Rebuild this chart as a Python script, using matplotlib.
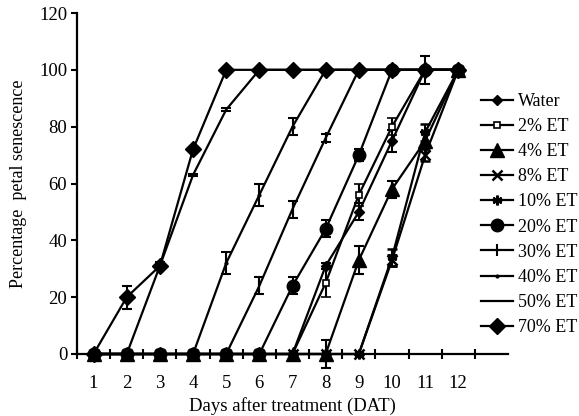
import matplotlib
matplotlib.use("Agg")
import matplotlib.pyplot as plt

plt.rcParams['font.family'] = ['Liberation Serif', 'DejaVu Serif']

days = list(range(1, 13))
day_labels = [str(d) for d in days]

water = [0, 0, 0, 0, 0, 0, 0, 31, 50, 75, 100, 100]
water_err = [0, 0, 0, 0, 0, 0, 0, 1, 3, 4, 5, 0]
et2 = [0, 0, 0, 0, 0, 0, 0, 25, 56, 80, 100, 100]
et2_err = [0, 0, 0, 0, 0, 0, 0, 5, 4, 3, 0, 0]
et4 = [0, 0, 0, 0, 0, 0, 0, 0, 33, 58, 75, 100]
et4_err = [0, 0, 0, 0, 0, 0, 0, 5, 5, 3, 3, 0]
et8 = [0, 0, 0, 0, 0, 0, 0, 0, 0, 33, 70, 100]
et8_err = [0, 0, 0, 0, 0, 0, 0, 0, 0, 2, 2, 0]
et10 = [0, 0, 0, 0, 0, 0, 0, 0, 0, 34, 78, 100]
et10_err = [0, 0, 0, 0, 0, 0, 0, 0, 0, 3, 3, 0]
et20 = [0, 0, 0, 0, 0, 0, 24, 44, 70, 100, 100, 100]
et20_err = [0, 0, 0, 0, 0, 0, 3, 3, 2, 0, 0, 0]
et30 = [0, 0, 0, 0, 0, 24, 51, 76, 100, 100, 100, 100]
et30_err = [0, 0, 0, 0, 0, 3, 3, 1.5, 0, 0, 0, 0]
et40 = [0, 0, 0, 0, 32, 56, 80, 100, 100, 100, 100, 100]
et40_err = [0, 0, 0, 0, 4, 4, 3, 0, 0, 0, 0, 0]
et50 = [0, 0, 31, 63, 86, 100, 100, 100, 100, 100, 100, 100]
et50_err = [0, 0, 0.5, 0.5, 0.5, 0, 0, 0, 0, 0, 0, 0]
et70 = [0, 20, 31, 72, 100, 100, 100, 100, 100, 100, 100, 100]
et70_err = [0, 4, 1.5, 0, 0, 0, 0, 0, 0, 0, 0, 0]

series = [
    ("Water", water, water_err, dict(marker='D', ms=5, mfc='black')),
    ("2% ET", et2, et2_err, dict(marker='s', ms=4, mfc='white', mew=1.2)),
    ("4% ET", et4, et4_err, dict(marker='^', ms=10, mfc='black')),
    ("8% ET", et8, et8_err, dict(marker='x', ms=7, mew=1.8)),
    ("10% ET", et10, et10_err, dict(marker=(6, 2, 0), ms=7, mew=1.8)),
    ("20% ET", et20, et20_err, dict(marker='o', ms=9, mfc='black')),
    ("30% ET", et30, et30_err, dict(marker='|', ms=9, mew=1.5)),
    ("40% ET", et40, et40_err, dict(marker='.', ms=4)),
    ("50% ET", et50, et50_err, dict(marker='None')),
    ("70% ET", et70, et70_err, dict(marker='D', ms=8.5, mfc='black')),
]

fig = plt.figure(figsize=(5.79, 4.16), dpi=100)
ax = fig.add_axes([77/579, 1 - 354/416, (508 - 77)/579, (354 - 13)/416])

handles = []
for name, vals, errs, style in series:
    eb = ax.errorbar(days, vals, yerr=errs, color='black', lw=1.6,
                     elinewidth=1.5, capsize=3.5, capthick=1.5,
                     mec='black', clip_on=False, label=name, **style)
    for a in eb.lines[1]:
        a.set_clip_on(False)
    for a in eb.lines[2]:
        a.set_clip_on(False)
    handles.append(eb.lines[0])

ax.set_xlim(0.5, 13.5)
ax.set_ylim(0, 120)
ax.set_yticks([0, 20, 40, 60, 80, 100, 120])
ax.set_xticks(days)
ax.set_xticklabels(day_labels)
ax.set_xticks([d + 0.5 for d in range(0, 13)], minor=True)
ax.tick_params(axis='x', which='major', length=0, pad=15, labelsize=13.5)
ax.tick_params(axis='x', which='minor', direction='inout', length=7, width=1.5)
ax.tick_params(axis='y', direction='out', length=4, width=1.5, pad=3, labelsize=13.5)

for s in ['top', 'right']:
    ax.spines[s].set_visible(False)
for s in ['left', 'bottom']:
    ax.spines[s].set_linewidth(1.6)

ax.set_xlabel("Days after treatment (DAT)", fontsize=13.5, labelpad=4)
ax.set_ylabel("Percentage  petal senescence", fontsize=13, labelpad=9)

leg = ax.legend(handles, [s[0] for s in series], loc='upper left',
                bbox_to_anchor=(481/579, 1 - 93/416), bbox_transform=fig.transFigure,
                frameon=False, fontsize=13, handlelength=1.75, handletextpad=0.3,
                labelspacing=0.45, borderpad=0, borderaxespad=0)

fig.savefig("out.png", dpi=100)
